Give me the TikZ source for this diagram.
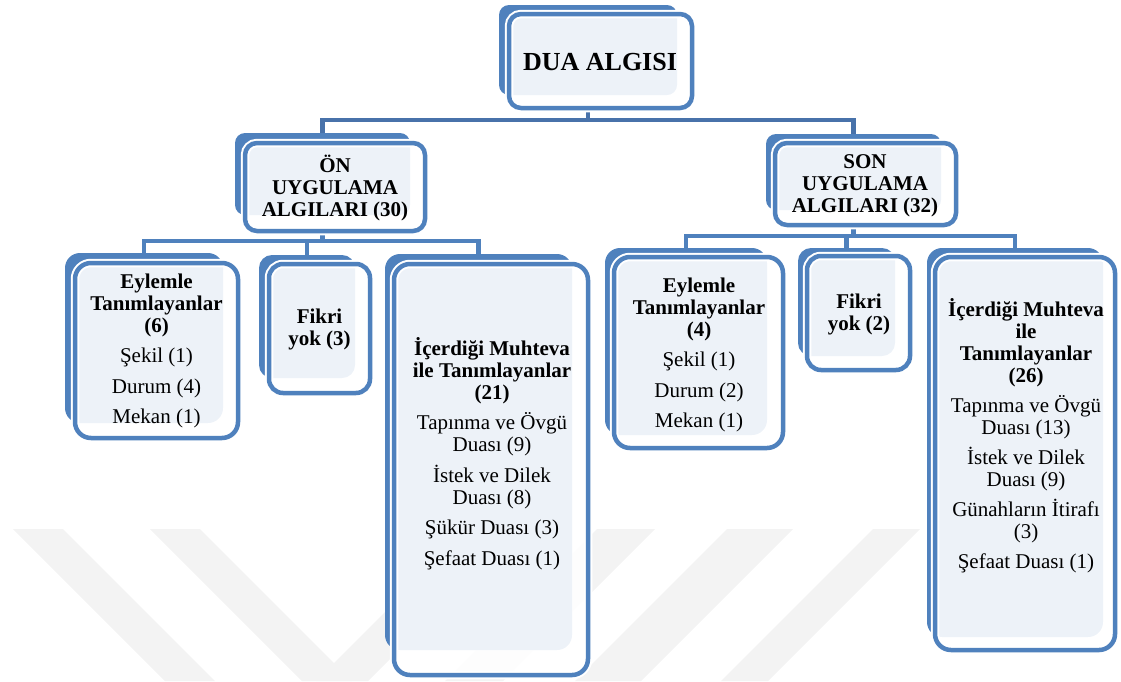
\documentclass[tikz,border=0pt]{standalone}
\usepackage{fontspec}
\setmainfont{Liberation Serif}
\newfontfamily\tnr{Liberation Serif}
\usetikzlibrary{fit,backgrounds}
\definecolor{sablue}{RGB}{79,129,189}
\definecolor{busdark}{RGB}{72,114,170}
\definecolor{wmgray}{RGB}{243,243,243}
\begin{document}
\begin{tikzpicture}[x=1pt,y=-1pt,
  backbox/.style={fill=sablue, draw=none, rounded corners=#1, inner sep=0pt, outer sep=0pt},
  frontbox/.style={draw=sablue, line width=4.5pt, fill=white, fill opacity=0.9, rounded corners=#1, inner sep=0pt, outer sep=0pt, preaction={draw=white, line width=8.5pt}},
  conn/.style={draw=sablue, line width=4.5pt},
  topconn/.style={draw=busdark, line width=4.5pt},
  txt/.style={anchor=north, align=center, inner sep=0pt, text=black, font=\tnr\fontsize{21}{22}\selectfont},
  head/.style={txt, font=\tnr\fontsize{21}{22}\selectfont\bfseries},
  wm/.style={fill=wmgray, draw=none}
]
\useasboundingbox (0,0) rectangle (1121,681);

% ---------- boxes: back shape + front frame ----------
\node[backbox=10pt, fit={(499,5) (677,95)}] (duaB) {};
\node[frontbox=12pt, fit={(509,14) (692,108)}] (duaF) {};

\node[backbox=10pt, fit={(235,133) (410,215)}] (onB) {};
\node[frontbox=12pt, fit={(245,143) (425,231)}] (onF) {};

\node[backbox=10pt, fit={(766,134) (941,210)}] (sonB) {};
\node[frontbox=12pt, fit={(775,143) (956,225)}] (sonF) {};

\node[backbox=15pt, fit={(65,253) (223,423)}] (eyaB) {};
\node[frontbox=16pt, fit={(75,263) (238,438)}] (eyaF) {};

\node[backbox=13pt, fit={(259,255) (355,378)}] (fkaB) {};
\node[frontbox=14pt, fit={(269,264) (370,393)}] (fkaF) {};

\node[backbox=15pt, fit={(385,254) (572,650)}] (icaB) {};
\node[frontbox=16pt, fit={(394,264) (588,675)}] (icaF) {};

\node[backbox=15pt, fit={(605,248) (767,435)}] (eybB) {};
\node[frontbox=16pt, fit={(614,257) (783,448)}] (eybF) {};

\node[backbox=13pt, fit={(798,248) (895,356)}] (fkbB) {};
\node[frontbox=14pt, fit={(807,256) (910,370)}] (fkbF) {};

\node[backbox=15pt, fit={(927,248) (1103,637)}] (icbB) {};
\node[frontbox=16pt, fit={(935,257) (1115,650)}] (icbF) {};

% ---------- texts ----------
\node[txt, font=\tnr\fontsize{26}{28}\selectfont\bfseries] (dua) at (600,50) {\rule{0pt}{20pt}DUA ALGISI};
\node[head] (on) at (335,152) {\rule{0pt}{20pt}ÖN\\UYGULAMA\\ALGILARI (30)};
\node[head] (son) at (865,148) {\rule{0pt}{20pt}SON\\UYGULAMA\\ALGILARI (32)};

\node[txt] (eya) at (156.5,268) {\rule{0pt}{20pt}\textbf{Eylemle}\\\textbf{Tanımlayanlar}\\\textbf{(6)}\\[8.5pt]Şekil (1)\\[8.5pt]Durum (4)\\[8.5pt]Mekan (1)};
\node[head] (fka) at (319.5,303) {\rule{0pt}{20pt}Fikri\\yok (3)};
\node[txt] (ica) at (492,335) {\rule{0pt}{20pt}\textbf{İçerdiği Muhteva}\\\textbf{ile Tanımlayanlar}\\\textbf{(21)}\\[8.5pt]Tapınma ve Övgü\\Duası (9)\\[8.5pt]İstek ve Dilek\\Duası (8)\\[8.5pt]Şükür Duası (3)\\[8.5pt]Şefaat Duası (1)};

\node[txt] (eyb) at (699,272) {\rule{0pt}{20pt}\textbf{Eylemle}\\\textbf{Tanımlayanlar}\\\textbf{(4)}\\[8.5pt]Şekil (1)\\[8.5pt]Durum (2)\\[8.5pt]Mekan (1)};
\node[head] (fkb) at (859,288) {\rule{0pt}{20pt}Fikri\\yok (2)};
\node[txt] (icb) at (1026,296) {\rule{0pt}{20pt}\textbf{İçerdiği Muhteva}\\\textbf{ile}\\\textbf{Tanımlayanlar}\\\textbf{(26)}\\[8pt]Tapınma ve Övgü\\Duası (13)\\[8pt]İstek ve Dilek\\Duası (9)\\[8pt]Günahların İtirafı\\(3)\\[8pt]Şefaat Duası (1)};

% ---------- background: watermark and connectors ----------
\begin{scope}[on background layer]
  \fill[wm] (13,529) -- (63,529) -- (215,681) -- (165,681) -- cycle;
  \fill[wm] (150,529) -- (200,529) -- (352,681) -- (302,681) -- cycle;
  \fill[wm] (468,529) -- (520,529) -- (368,681) -- (316,681) -- cycle;
  \fill[wm] (597,529) -- (655,529) -- (503,681) -- (445,681) -- cycle;
  \fill[wm] (727,529) -- (793,529) -- (641,681) -- (575,681) -- cycle;
  \fill[wm] (873,529) -- (920,529) -- (768,681) -- (721,681) -- cycle;

  \coordinate (bus0) at (0,120);
  \coordinate (busL) at (0,241);
  \coordinate (busR) at (0,236);

  \draw[topconn] (duaB.south |- duaF.south) -- (duaB.south |- bus0) -| (onB.north);
  \draw[topconn] (duaB.south |- bus0) -| (sonB.north);

  \draw[conn] (onB.south |- onF.south) -- (onB.south |- busL) -| (eyaB.north);
  \draw[conn] (onB.south |- busL) -| (fkaB.north);
  \draw[conn] (onB.south |- busL) -| (icaB.north);

  \draw[conn] (sonB.south |- sonF.south) -- (sonB.south |- busR) -| (eybB.north);
  \draw[conn] (sonB.south |- busR) -| (fkbB.north);
  \draw[conn] (sonB.south |- busR) -| (icbB.north);
\end{scope}
\end{tikzpicture}
\end{document}
